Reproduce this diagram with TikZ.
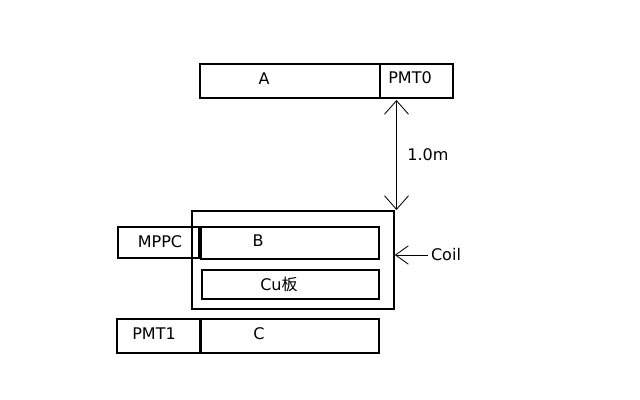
\documentclass[tikz,border=0pt]{standalone}
\usepackage{fontspec}
\setmainfont{DejaVu Sans}
\newfontfamily\cjk{Noto Sans CJK SC}
\usetikzlibrary{arrows.meta}
\tikzset{
	bar/.style={draw,line width=1.1pt,inner sep=0pt,minimum width=#1},
	lbl/.style={inner sep=0pt,font=\fontsize{11.4}{13}\selectfont},
	open/.style={line width=0.6pt,{Straight Barb[length=3.4mm,width=6mm,line width=0.6pt]}-{Straight Barb[length=3.4mm,width=6mm,line width=0.6pt]}},
	openr/.style={line width=0.6pt,-{Straight Barb[length=3.2mm,width=4.6mm,line width=0.6pt]}},
}
\begin{document}
\begin{tikzpicture}[x=0.025cm,y=-0.025cm]
	\useasboundingbox (0,0) rectangle (640,400);
	% scintillators and tubes
	\node[bar=4.5cm,minimum height=0.85cm] (barA) at (290,81) {};
	\node[bar=1.825cm,minimum height=0.85cm] (pmtzero) at (416.5,81) {};
	\node[bar=5.05cm,minimum height=2.45cm] (coilbox) at (293,260) {};
	\node[bar=2.025cm,minimum height=0.775cm] (mppc) at (158.5,242.5) {};
	\node[bar=4.45cm,minimum height=0.8cm] (barB) at (290,243) {};
	\node[bar=4.425cm,minimum height=0.725cm] (plate) at (290.5,284.5) {};
	\node[bar=2.075cm,minimum height=0.85cm] (pmtone) at (158.5,336) {};
	\node[bar=4.45cm,minimum height=0.85cm] (barC) at (290,336) {};
	% labels
	\node[lbl] (txtA) at (264,79) {A};
	\node[lbl] (txtzero) at (410,78) {PMT0};
	\node[lbl] (txtdist) at (428,155) {1.0m};
	\node[lbl] (txtmppc) at (160,242) {MPPC};
	\node[lbl] (txtB) at (258,241) {B};
	\node[lbl] (txtplate) at (279,284) {Cu{\cjk 板}};
	\node[lbl] (txtone) at (154,334) {PMT1};
	\node[lbl] (txtC) at (259,334) {C};
	\node[lbl] (coil) at (446,255) {Coil};
	% arrows
	\coordinate (gaptop) at (396.5,100);
	\coordinate (gapbot) at (396.5,210);
	\draw[open] (gaptop) -- (gapbot);
	\draw[openr] (coil.west) ++(-3,0) -- (coil.west -| coilbox.east);
\end{tikzpicture}
\end{document}
